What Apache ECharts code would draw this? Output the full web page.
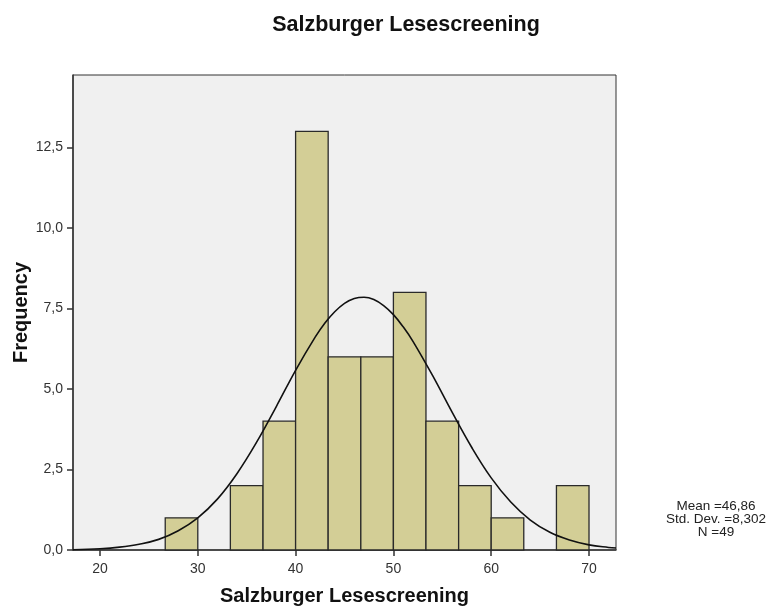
<!DOCTYPE html>
<html>
<head>
<meta charset="utf-8">
<script src="https://cdn.jsdelivr.net/npm/echarts@6/dist/echarts.min.js"></script>
<style>
  html, body { margin: 0; padding: 0; background: #fff; }
  #chart { width: 777px; height: 608px; }
</style>
</head>
<body>
<div id="chart"></div>
<script>
// histogram bins (width 10/3)
const binStart = [26.67, 30, 33.33, 36.67, 40, 43.33, 46.67, 50, 53.33, 56.67, 60, 63.33, 66.67];
const binEnd   = [30, 33.33, 36.67, 40, 43.33, 46.67, 50, 53.33, 56.67, 60, 63.33, 66.67, 70];
const counts   = [1, 0, 2, 4, 13, 6, 6, 8, 4, 2, 1, 0, 2];

// fitted normal curve
const curveX = [17.24, 20, 22, 24, 26, 28, 30, 32, 34, 36, 38, 40, 42, 43, 44, 45, 46, 47, 48, 49, 50, 51, 52, 54, 56, 58, 60, 62, 64, 66, 68, 70, 72, 72.76];
const curveY = [0.01, 0.04, 0.09, 0.18, 0.33, 0.6, 1.0, 1.58, 2.37, 3.34, 4.44, 5.58, 6.61, 7.05, 7.4, 7.66, 7.81, 7.85, 7.78, 7.59, 7.31, 6.93, 6.48, 5.42, 4.28, 3.19, 2.24, 1.49, 0.93, 0.55, 0.31, 0.16, 0.08, 0.06];

const xTicks = [20, 30, 40, 50, 60, 70];
const yTicks = [0, 2.5, 5, 7.5, 10, 12.5];
const statsLines = ['Mean =46,86', 'Std. Dev. =8,302', 'N =49'];

const font = '"Liberation Sans", Arial, sans-serif';
const comma = v => v.toFixed(1).replace('.', ',');

let myChart = echarts.init(document.getElementById('chart'));

let option = {
  backgroundColor: '#fff',
  animation: false,
  title: {
    text: 'Salzburger Lesescreening',
    left: 401,
    textAlign: 'center',
    top: 9,
    textStyle: { fontFamily: font, fontSize: 21.5, fontWeight: 'bold', color: '#111' }
  },
  grid: {
    left: 73, right: 161, top: 75, bottom: 58,
    outerBoundsMode: 'none',
    containLabel: false,
    show: true,
    backgroundColor: '#f0f0f0',
    borderColor: '#333',
    borderWidth: 1
  },
  xAxis: {
    type: 'value',
    min: 17.24,
    max: 72.76,
    name: 'Salzburger Lesescreening',
    nameLocation: 'middle',
    nameGap: 36,
    nameTextStyle: { fontFamily: font, fontSize: 20, fontWeight: 'bold', color: '#111' },
    axisLine: { show: true, lineStyle: { color: '#333', width: 1.5 } },
    axisTick: { show: true, length: 6, customValues: xTicks, lineStyle: { color: '#333', width: 1.5 } },
    axisLabel: { customValues: xTicks, fontFamily: font, fontSize: 14, color: '#333', margin: 12 },
    splitLine: { show: false }
  },
  yAxis: {
    type: 'value',
    min: 0,
    max: 14.75,
    name: 'Frequency',
    nameLocation: 'middle',
    nameGap: 42,
    nameMoveOverlap: false,
    nameTextStyle: { fontFamily: font, fontSize: 20, fontWeight: 'bold', color: '#111' },
    axisLine: { show: true, lineStyle: { color: '#333', width: 1.5 } },
    axisTick: { show: true, length: 6, customValues: yTicks, lineStyle: { color: '#333', width: 1.5 } },
    axisLabel: { customValues: yTicks, formatter: comma, fontFamily: font, fontSize: 14, color: '#333', margin: 10 },
    splitLine: { show: false }
  },
  series: [
    {
      type: 'custom',
      data: binStart.map((s, i) => [s, binEnd[i], counts[i]]),
      renderItem: function (params, api) {
        if (api.value(2) <= 0) return null;
        const p0 = api.coord([api.value(0), api.value(2)]);
        const p1 = api.coord([api.value(1), 0]);
        return {
          type: 'rect',
          shape: { x: p0[0], y: p0[1], width: p1[0] - p0[0], height: p1[1] - p0[1] },
          style: { fill: '#d3ce96', stroke: '#2a2a2a', lineWidth: 1.3 }
        };
      },
      encode: { x: [0, 1], y: 2 },
      z: 2
    },
    {
      type: 'line',
      data: curveX.map((x, i) => [x, curveY[i]]),
      smooth: 0.4,
      showSymbol: false,
      lineStyle: { color: '#111', width: 1.6 },
      z: 3
    }
  ],
  graphic: statsLines.map((t, i) => ({
    type: 'text',
    x: 716,
    y: 499 + i * 13,
    style: { text: t, fontFamily: font, fontSize: 13.5, fill: '#222', textAlign: 'center', textVerticalAlign: 'top' }
  }))
};

option && myChart.setOption(option);
</script>
</body>
</html>
